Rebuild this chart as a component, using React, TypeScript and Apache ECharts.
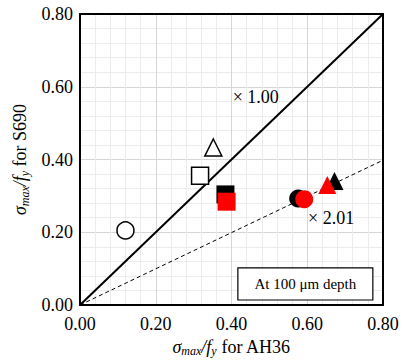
import React, { useEffect, useRef } from "react";
import * as echarts from "echarts";

const openCircle = [[0.12, 0.205]];
const openSquare = [[0.317, 0.355]];
const openTriangle = [[0.352, 0.433]];
const blackSquare = [[0.384, 0.304]];
const redSquare = [[0.387, 0.284]];
const blackCircle = [[0.576, 0.293]];
const redCircle = [[0.592, 0.291]];
const blackTriangle = [[0.672, 0.341]];
const redTriangle = [[0.653, 0.33]];
const ratioOneLine = [[0, 0], [0.8, 0.8]];
const ratioTwoLine = [[0, 0], [0.8, 0.8 / 2.01]];
const annotations = [
  { value: [0.403, 0.572], text: "× 1.00" },
  { value: [0.602, 0.24], text: "× 2.01" },
];
const noteBox = { value: [0.595, 0.058], text: "At 100 μm depth" };
const axisMin = 0;
const axisMax = 0.8;
const axisInterval = 0.2;

const FONT = "'Liberation Serif', 'Times New Roman', serif";

export default function App() {
  const ref = useRef<HTMLDivElement>(null);
  useEffect(() => {
    if (!ref.current) return;
    const chart = echarts.init(ref.current, null, { renderer: "svg" });
    const nameRich = {
      i: { fontFamily: FONT, fontSize: 18, fontStyle: "italic", color: "#000" },
      sub: { fontFamily: FONT, fontSize: 12, fontStyle: "italic", color: "#000", padding: [9, 0, 0, 0] },
      n: { fontFamily: FONT, fontSize: 18, color: "#000" },
    };
    const mainAxis = (isX: boolean) => ({
      type: "value",
      min: axisMin,
      max: axisMax,
      interval: axisInterval,
      axisLine: { show: true, onZero: false, lineStyle: { color: "#000", width: 2 } },
      axisTick: { show: false },
      minorTick: { show: false, splitNumber: 5 },
      minorSplitLine: { show: true, lineStyle: { color: "#ececec", width: 1 } },
      splitLine: { show: true, lineStyle: { color: "#d6d6d6", width: 1 } },
      axisLabel: {
        fontFamily: FONT,
        fontSize: 18,
        color: "#000",
        margin: isX ? 10 : 7,
        formatter: (v: number) => v.toFixed(2),
      },
      nameLocation: "middle",
      nameGap: isX ? 30 : 49,
      nameRotate: isX ? 0 : 90,
      name: isX
        ? "{i|σ}{sub|max}{i|/f}{sub|y}{n| for AH36}"
        : "{i|σ}{sub|max}{i|/f}{sub|y}{n| for S690}",
      nameTextStyle: { rich: nameRich },
    });
    const frameAxis = {
      type: "value",
      min: axisMin,
      max: axisMax,
      interval: axisInterval,
      axisLine: { show: true, onZero: false, lineStyle: { color: "#000", width: 2 } },
      axisTick: { show: false },
      axisLabel: { show: false },
      splitLine: { show: false },
    };
    const marker = (data: number[][], symbol: string, filled: string | null, size: number) => ({
      type: "scatter",
      data,
      symbol,
      symbolSize: size,
      itemStyle: filled
        ? { color: filled, opacity: 1 }
        : { color: "#fff", borderColor: "#000", borderWidth: 1.5, opacity: 1 },
      z: 5,
    });
    chart.setOption({
      animation: false,
      grid: { left: 80, right: 21, top: 14, bottom: 56, containLabel: false, outerBoundsMode: "none" },
      xAxis: [mainAxis(true), { ...frameAxis, position: "top" }],
      yAxis: [mainAxis(false), { ...frameAxis, position: "right" }],
      series: [
        {
          type: "line",
          data: ratioOneLine,
          symbol: "none",
          lineStyle: { color: "#000", width: 2 },
          z: 3,
        },
        {
          type: "line",
          data: ratioTwoLine,
          symbol: "none",
          lineStyle: { color: "#000", width: 1, type: [4, 3] },
          z: 3,
        },
        marker(openCircle, "circle", null, 17),
        marker(openSquare, "rect", null, 17),
        marker(openTriangle, "triangle", null, 17),
        marker(blackSquare, "rect", "#000", 18),
        marker(redSquare, "rect", "#ff0000", 18),
        marker(blackCircle, "circle", "#000", 18),
        marker(redCircle, "circle", "#ff0000", 18),
        marker(blackTriangle, "triangle", "#000", 18),
        marker(redTriangle, "triangle", "#ff0000", 18),
        {
          type: "scatter",
          symbolSize: 0,
          itemStyle: { opacity: 1 },
          data: annotations.map((a) => ({ value: a.value, name: a.text })),
          label: {
            show: true,
            position: [0, 0],
            align: "left",
            verticalAlign: "middle",
            formatter: (p: any) => p.name,
            fontFamily: FONT,
            fontSize: 18,
            color: "#000",
          },
          z: 6,
        },
        {
          type: "scatter",
          symbolSize: 0,
          itemStyle: { opacity: 1 },
          data: [{ value: noteBox.value, name: noteBox.text }],
          label: {
            show: true,
            position: [0, 0],
            align: "center",
            verticalAlign: "middle",
            formatter: (p: any) => p.name,
            fontFamily: FONT,
            fontSize: 15,
            color: "#000",
            backgroundColor: "#fff",
            borderColor: "#000",
            borderWidth: 1.2,
            padding: [8, 16, 8, 16],
          },
          z: 6,
        },
      ],
    });
    return () => chart.dispose();
  }, []);
  return <div ref={ref} style={{ width: 404, height: 361, position: "absolute", left: 0, top: 0 }} />;
}
